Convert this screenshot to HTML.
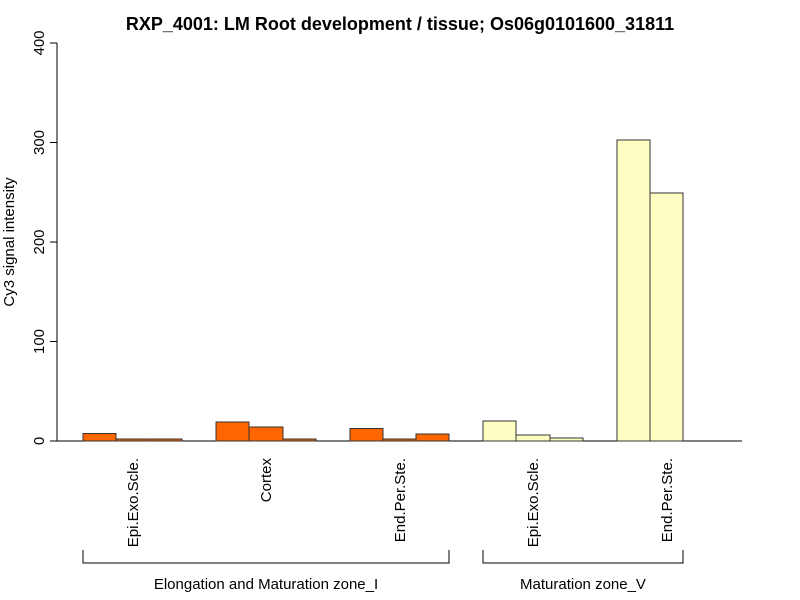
<!DOCTYPE html>
<html><head><meta charset="utf-8"><style>body{margin:0;background:#fff}svg{display:block}</style></head>
<body>
<svg width="800" height="600" xmlns="http://www.w3.org/2000/svg" font-family="Liberation Sans, Arial, sans-serif">
<rect width="800" height="600" fill="#fff"/>
<text x="400" y="30" text-anchor="middle" font-size="18" font-weight="bold">RXP_4001: LM Root development / tissue; Os06g0101600_31811</text>
<g stroke="#000" stroke-width="1" fill="none">
<line x1="57" y1="43" x2="57" y2="441"/>
<line x1="50" y1="441" x2="57" y2="441"/>
<line x1="50" y1="341.5" x2="57" y2="341.5"/>
<line x1="50" y1="242" x2="57" y2="242"/>
<line x1="50" y1="142.5" x2="57" y2="142.5"/>
<line x1="50" y1="43" x2="57" y2="43"/>
<line x1="57" y1="441" x2="742" y2="441"/>
</g>
<g font-size="15" text-anchor="middle">
<text transform="translate(44,441) rotate(-90)">0</text>
<text transform="translate(44,341.5) rotate(-90)">100</text>
<text transform="translate(44,242) rotate(-90)">200</text>
<text transform="translate(44,142.5) rotate(-90)">300</text>
<text transform="translate(44,43) rotate(-90)">400</text>
<text transform="translate(14,242) rotate(-90)">Cy3 signal intensity</text>
</g>
<g stroke="#333" stroke-width="1" fill="#FF6600">
<rect x="83" y="433.5" width="33" height="7.5"/>
<rect x="116" y="439" width="33" height="2"/>
<rect x="149" y="439" width="33" height="2"/>
<rect x="216" y="422" width="33" height="19"/>
<rect x="249" y="427" width="34" height="14"/>
<rect x="283" y="439" width="33" height="2"/>
<rect x="350" y="428.5" width="33" height="12.5"/>
<rect x="383" y="439" width="33" height="2"/>
<rect x="416" y="434" width="33" height="7"/>
</g>
<g stroke="#333" stroke-width="1" fill="#FFFFC4">
<rect x="483" y="421" width="33" height="20"/>
<rect x="516" y="435" width="34" height="6"/>
<rect x="550" y="438" width="33" height="3"/>
<rect x="617" y="140" width="33" height="301"/>
<rect x="650" y="193" width="33" height="248"/>
</g>
<g font-size="15" text-anchor="end">
<text transform="translate(138,458) rotate(-90)">Epi.Exo.Scle.</text>
<text transform="translate(271,458) rotate(-90)">Cortex</text>
<text transform="translate(405,458) rotate(-90)">End.Per.Ste.</text>
<text transform="translate(538,458) rotate(-90)">Epi.Exo.Scle.</text>
<text transform="translate(672,458) rotate(-90)">End.Per.Ste.</text>
</g>
<g stroke="#000" fill="none">
<polyline points="83,550 83,563 449,563 449,550"/>
<polyline points="483,550 483,563 683,563 683,550"/>
</g>
<g font-size="15" text-anchor="middle">
<text x="266" y="589">Elongation and Maturation zone_I</text>
<text x="583" y="589">Maturation zone_V</text>
</g>
</svg>
</body></html>
